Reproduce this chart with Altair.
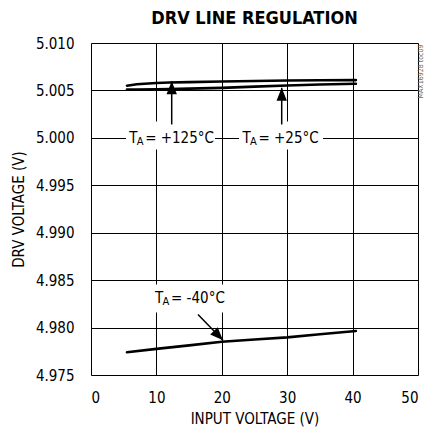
import altair as alt
import pandas as pd

FONT = "DejaVu Sans Condensed, Liberation Sans Narrow, sans-serif"

# ---- data ----
vin_hot = [5.5, 7, 10, 12, 15, 20, 25, 30, 35, 40.5]
v_125 = [5.00550, 5.00565, 5.00578, 5.00583, 5.00588, 5.00594, 5.00600, 5.00604, 5.00607, 5.00609]
v_25 = [5.00508, 5.00509, 5.00511, 5.00514, 5.00519, 5.00527, 5.00540, 5.00552, 5.00562, 5.00570]

vin_cold = [5.5, 10, 15, 20, 25, 30, 35, 40.5]
v_m40 = [4.97740, 4.97775, 4.97812, 4.97850, 4.97875, 4.97897, 4.97930, 4.97964]

x_ticks = [0, 10, 20, 30, 40, 50]
y_ticks = [4.975, 4.980, 4.985, 4.990, 4.995, 5.000, 5.005, 5.010]

# annotation labels: left edge (V), centre (V), text after subscript
lab_text = ["= +125°C", "= +25°C", "= -40°C"]
lab_x = [5.83, 23.16, 9.79]
lab_y = [4.99995, 4.99995, 4.98313]
# white boxes behind labels
box_x0 = [5.35, 22.63, 9.17]
box_x1 = [18.96, 35.47, 21.1]
box_y0 = [4.99878, 4.99878, 4.98158]
box_y1 = [5.00173, 5.00173, 4.98453]
# arrows: start -> tip
arr_x0 = [12.34, 29.16, 16.36]
arr_y0 = [5.00141, 5.00141, 4.98137]
arr_x1 = [12.34, 29.16, 20.18]
arr_y1 = [5.00598, 5.00528, 4.97866]
arr_angle = [0, 0, 136]

curves = pd.concat([
    pd.DataFrame({"vin": vin_hot, "v": v_125, "s": "125"}),
    pd.DataFrame({"vin": vin_hot, "v": v_25, "s": "25"}),
    pd.DataFrame({"vin": vin_cold, "v": v_m40, "s": "-40"}),
])
labels = pd.DataFrame({"x": lab_x, "y": lab_y, "t": lab_text})
boxes = pd.DataFrame({"x0": box_x0, "x1": box_x1, "y0": box_y0, "y1": box_y1})
arrows = pd.DataFrame({"x0": arr_x0, "y0": arr_y0, "x1": arr_x1, "y1": arr_y1, "a": arr_angle})
mark_df = pd.DataFrame({"x": [50.45], "y": [5.0070], "t": ["MAX16928 toc09"]})

xs = alt.Scale(domain=[0, 50], nice=False)
ys = alt.Scale(domain=[4.975, 5.010], nice=False, zero=False)

xax = alt.Axis(values=x_ticks, title="INPUT VOLTAGE (V)", grid=True, gridColor="black",
               gridOpacity=1, gridWidth=1, ticks=False, domain=False, labelPadding=15,
               labelFontSize=15, labelFont=FONT, labelColor="black", titleFont=FONT,
               titleFontSize=15, titleFontWeight="normal", titleColor="black", titlePadding=6)
yax = alt.Axis(values=y_ticks, format=".3f", title="DRV VOLTAGE (V)", grid=True,
               gridColor="black", gridOpacity=1, gridWidth=1, ticks=False, domain=False,
               labelPadding=17, labelFontSize=15, labelFont=FONT, labelColor="black",
               titleFont=FONT, titleFontSize=15, titleFontWeight="normal",
               titleColor="black", titlePadding=9)

lines = alt.Chart(curves).mark_line(color="black", strokeWidth=2.6, strokeCap="round").encode(
    x=alt.X("vin:Q", scale=xs, axis=xax),
    y=alt.Y("v:Q", scale=ys, axis=yax),
    detail="s:N",
)

box = alt.Chart(boxes).mark_rect(color="white").encode(
    x=alt.X("x0:Q", scale=xs), x2="x1:Q", y=alt.Y("y0:Q", scale=ys), y2="y1:Q")

arrow_line = alt.Chart(arrows).mark_rule(color="black", strokeWidth=1.5).encode(
    x=alt.X("x0:Q", scale=xs), y=alt.Y("y0:Q", scale=ys), x2="x1:Q", y2="y1:Q")

arrow_head = alt.Chart(arrows).mark_point(
    shape="M0,0L-0.4,1L0.4,1Z", filled=True, color="black", opacity=1, size=676
).encode(x=alt.X("x1:Q", scale=xs), y=alt.Y("y1:Q", scale=ys), angle=alt.Angle("a:Q", scale=None))

base_t = alt.Chart(labels)
t_main = base_t.mark_text(align="left", baseline="middle", font=FONT, fontSize=15,
                          color="black").encode(
    x=alt.X("x:Q", scale=xs), y=alt.Y("y:Q", scale=ys), text=alt.value("T"))
t_sub = base_t.mark_text(align="left", baseline="middle", font=FONT, fontSize=11,
                         color="black", dx=7.5, dy=4).encode(
    x=alt.X("x:Q", scale=xs), y=alt.Y("y:Q", scale=ys), text=alt.value("A"))
t_rest = base_t.mark_text(align="left", baseline="middle", font=FONT, fontSize=15,
                          color="black", dx=16).encode(
    x=alt.X("x:Q", scale=xs), y=alt.Y("y:Q", scale=ys), text="t:N")

wm = alt.Chart(mark_df).mark_text(angle=270, font=FONT, fontSize=7, color="#666666",
                                  baseline="middle", align="center").encode(
    x=alt.X("x:Q", scale=xs), y=alt.Y("y:Q", scale=ys), text="t:N")

chart = alt.layer(box, lines, arrow_line, arrow_head, t_main, t_sub, t_rest, wm).properties(
    width=327, height=332,
    title=alt.TitleParams("DRV LINE REGULATION", font=FONT, fontSize=18, fontWeight="bold",
                          color="black", anchor="middle", offset=8),
    autosize=alt.AutoSizeParams(type="none"),
    padding={"left": 83, "top": 35, "right": 6, "bottom": 52},
).configure_view(stroke="black", strokeWidth=3).configure(background="white")

chart.save("out.html", embed_options={"renderer": "svg", "actions": False})
